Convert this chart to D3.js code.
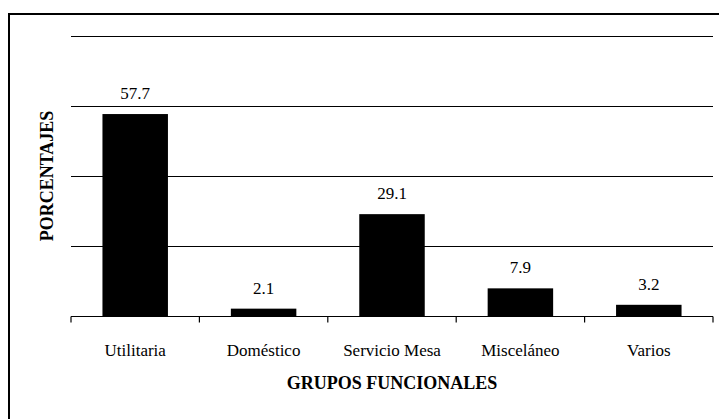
<!DOCTYPE html>
<html>
<head>
<meta charset="utf-8">
<script src="https://cdn.jsdelivr.net/npm/d3@7"></script>
<style>
  body { margin: 0; background: #fff; }
</style>
</head>
<body>
<div id="chart"></div>
<script>
var categories = ["Utilitaria", "Doméstico", "Servicio Mesa", "Misceláneo", "Varios"];
var values = [57.7, 2.1, 29.1, 7.9, 3.2];
var yTicks = [20, 40, 60, 80];

var width = 719, height = 419;
var margin = {left: 71, right: 6, top: 36, bottom: 103};
var font = "Times New Roman";

var svg = d3.select("#chart").append("svg")
  .attr("width", width)
  .attr("height", height)
  .style("display", "block");

// outer frame
svg.append("rect")
  .attr("x", 9).attr("y", 14)
  .attr("width", width + 10).attr("height", height + 10)
  .attr("fill", "none")
  .attr("stroke", "#000")
  .attr("stroke-width", 2);

var x = d3.scaleBand()
  .domain(categories)
  .range([margin.left, width - margin.right])
  .paddingInner(0.49)
  .paddingOuter(0.245);

var y = d3.scaleLinear()
  .domain([0, 80])
  .range([height - margin.bottom, margin.top]);

// gridlines
svg.selectAll(".grid")
  .data(yTicks)
  .enter().append("line")
  .attr("class", "grid")
  .attr("x1", margin.left)
  .attr("x2", width - margin.right)
  .attr("y1", function(d){ return Math.round(y(d)) + 0.5; })
  .attr("y2", function(d){ return Math.round(y(d)) + 0.5; })
  .attr("stroke", "#000")
  .attr("stroke-width", 1.2);

// bars
svg.selectAll(".bar")
  .data(values)
  .enter().append("rect")
  .attr("class", "bar")
  .attr("x", function(d, i){ return x(categories[i]); })
  .attr("width", x.bandwidth())
  .attr("y", function(d){ return y(d); })
  .attr("height", function(d){ return y(0) - y(d); })
  .attr("fill", "#000");

// value labels
svg.selectAll(".val")
  .data(values)
  .enter().append("text")
  .attr("class", "val")
  .attr("x", function(d, i){ return x(categories[i]) + x.bandwidth() / 2; })
  .attr("y", function(d){ return y(d) - 15; })
  .attr("text-anchor", "middle")
  .attr("font-size", 17)
  .style("font-family", font)
  .text(function(d){ return d.toFixed(1); });

// x axis
var axisY = Math.round(y(0)) + 0.5;
svg.append("line")
  .attr("x1", margin.left).attr("x2", width - margin.right)
  .attr("y1", axisY).attr("y2", axisY)
  .attr("stroke", "#000").attr("stroke-width", 1.2);

var tickXs = d3.range(categories.length + 1).map(function(i){ return margin.left + i * (width - margin.right - margin.left) / categories.length; });
svg.selectAll(".tick")
  .data(tickXs)
  .enter().append("line")
  .attr("x1", function(d){ return d; })
  .attr("x2", function(d){ return d; })
  .attr("y1", axisY).attr("y2", axisY + 6)
  .attr("stroke", "#000").attr("stroke-width", 1.2);

svg.selectAll(".cat")
  .data(categories)
  .enter().append("text")
  .attr("class", "cat")
  .attr("x", function(d){ return x(d) + x.bandwidth() / 2; })
  .attr("y", 356)
  .attr("text-anchor", "middle")
  .attr("font-size", 17)
  .style("font-family", font)
  .text(function(d){ return d; });

svg.append("text")
  .attr("x", (margin.left + width - margin.right) / 2)
  .attr("y", 389)
  .attr("text-anchor", "middle")
  .attr("font-size", 18)
  .attr("font-weight", "bold")
  .style("font-family", font)
  .text("GRUPOS FUNCIONALES");

svg.append("text")
  .attr("transform", "translate(53,176) rotate(-90)")
  .attr("text-anchor", "middle")
  .attr("font-size", 18)
  .attr("font-weight", "bold")
  .style("font-family", font)
  .text("PORCENTAJES");
</script>
</body>
</html>
